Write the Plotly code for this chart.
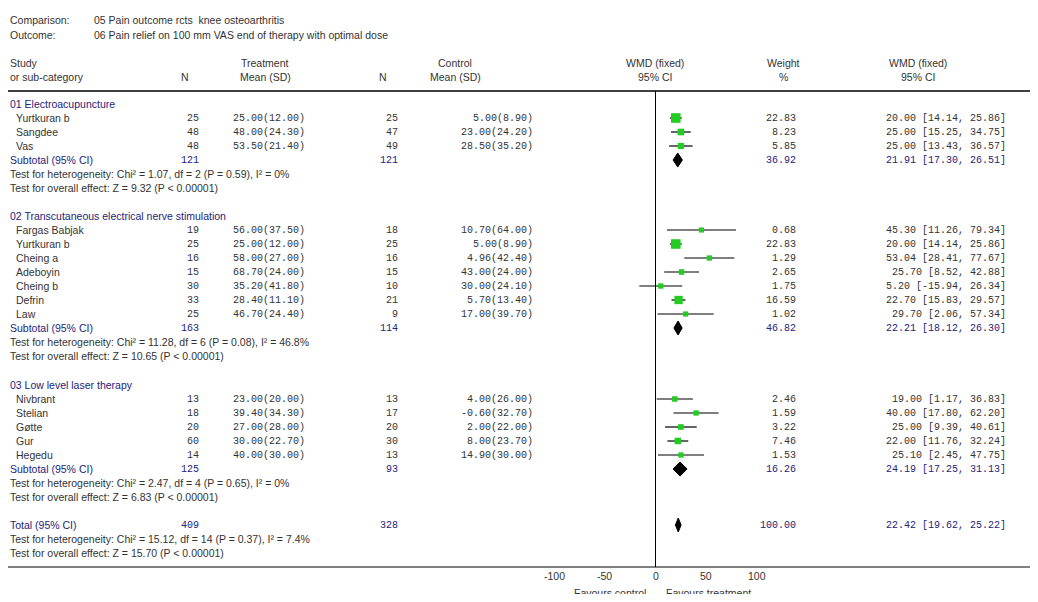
import plotly.graph_objects as go

W, H = 1038, 602
OFF = 8  # page body margin
FW, FH = W - 2 * OFF, H - 2 * OFF
groups = ["01 Electroacupuncture", "02 Transcutaneous electrical nerve stimulation", "03 Low level laser therapy"]
studies = [
    ["Yurtkuran b", "Sangdee", "Vas"],
    ["Fargas Babjak", "Yurtkuran b", "Cheing a", "Adeboyin", "Cheing b", "Defrin", "Law"],
    ["Nivbrant", "Stelian", "Gøtte", "Gur", "Hegedu"],
]
n_t = [[25, 48, 48], [19, 25, 16, 15, 30, 33, 25], [13, 18, 20, 60, 14]]
m_t = [[25.00, 48.00, 53.50], [56.00, 25.00, 58.00, 68.70, 35.20, 28.40, 46.70], [23.00, 39.40, 27.00, 30.00, 40.00]]
sd_t = [[12.00, 24.30, 21.40], [37.50, 12.00, 27.00, 24.00, 41.80, 11.10, 24.40], [20.00, 34.30, 28.00, 22.70, 30.00]]
n_c = [[25, 47, 49], [18, 25, 16, 15, 10, 21, 9], [13, 17, 20, 30, 13]]
m_c = [[5.00, 23.00, 28.50], [10.70, 5.00, 4.96, 43.00, 30.00, 5.70, 17.00], [4.00, -0.60, 2.00, 8.00, 14.90]]
sd_c = [[8.90, 24.20, 35.20], [64.00, 8.90, 42.40, 24.00, 24.10, 13.40, 39.70], [26.00, 32.70, 22.00, 23.70, 30.00]]
weight = [[22.83, 8.23, 5.85], [0.68, 22.83, 1.29, 2.65, 1.75, 16.59, 1.02], [2.46, 1.59, 3.22, 7.46, 1.53]]
wmd = [[20.00, 25.00, 25.00], [45.30, 20.00, 53.04, 25.70, 5.20, 22.70, 29.70], [19.00, 40.00, 25.00, 22.00, 25.10]]
lo = [[14.14, 15.25, 13.43], [11.26, 14.14, 28.41, 8.52, -15.94, 15.83, 2.06], [1.17, 17.80, 9.39, 11.76, 2.45]]
hi = [[25.86, 34.75, 36.57], [79.34, 25.86, 77.67, 42.88, 26.34, 29.57, 57.34], [36.83, 62.20, 40.61, 32.24, 47.75]]
sub_nt = [121, 163, 125]
sub_nc = [121, 114, 93]
sub_w = [36.92, 46.82, 16.26]
sub_wmd = [21.91, 22.21, 24.19]
sub_lo = [17.30, 18.12, 17.25]
sub_hi = [26.51, 26.30, 31.13]
het = ["Test for heterogeneity: Chi² = 1.07, df = 2 (P = 0.59), I² = 0%",
       "Test for heterogeneity: Chi² = 11.28, df = 6 (P = 0.08), I² = 46.8%",
       "Test for heterogeneity: Chi² = 2.47, df = 4 (P = 0.65), I² = 0%"]
overall = ["Test for overall effect: Z = 9.32 (P < 0.00001)",
           "Test for overall effect: Z = 10.65 (P < 0.00001)",
           "Test for overall effect: Z = 6.83 (P < 0.00001)"]
tot = dict(nt=409, nc=328, w=100.00, wmd=22.42, lo=19.62, hi=25.22,
           het="Test for heterogeneity: Chi² = 15.12, df = 14 (P = 0.37), I² = 7.4%",
           ov="Test for overall effect: Z = 15.70 (P < 0.00001)")
ticks = [-100, -50, 0, 50, 100]

SANS = "Liberation Sans"
MONO = "Liberation Mono"
NAVY = "#23237a"
GREY = "#333333"

def px(x):
    return (x - OFF) / FW

fig = go.Figure()
ann = []

def txt(x, y, s, anchor="left", color=GREY, font=SANS, size=10.5):
    ann.append(dict(x=px(x), y=y, xref="paper", yref="y", text=s, showarrow=False,
                    xanchor=anchor, yanchor="middle", font=dict(family=font, size=size, color=color)))

def mono(x, y, s, anchor="right", color=GREY):
    txt(x, y, s, anchor, color, MONO, 10)

for y, a, b in [(6, "Review:", "Laser KOA"), (20, "Comparison:", "05 Pain outcome rcts  knee osteoarthritis"),
                (35, "Outcome:", "06 Pain relief on 100 mm VAS end of therapy with optimal dose")]:
    txt(8, y, a); txt(92, y, b)
txt(8, 63, "Study"); txt(8, 77, "or sub-category")
txt(185, 77, "N", "center"); txt(265, 63, "Treatment", "center"); txt(265, 77, "Mean (SD)", "center")
txt(383, 77, "N", "center"); txt(455, 63, "Control", "center"); txt(455, 77, "Mean (SD)", "center")
txt(655, 63, "WMD (fixed)", "center"); txt(655, 77, "95% CI", "center")
txt(783, 63, "Weight", "center"); txt(783, 77, "%", "center")
txt(918, 63, "WMD (fixed)", "center"); txt(918, 77, "95% CI", "center")

shapes = [
    dict(type="line", xref="paper", yref="y", x0=0, x1=1, y0=91, y1=91, line=dict(color="black", width=1.5)),
    dict(type="line", xref="paper", yref="y", x0=0, x1=1, y0=567, y1=567, line=dict(color="black", width=1)),
    dict(type="line", xref="x", yref="y", x0=0, x1=0, y0=91, y1=567, line=dict(color="black", width=1)),
]

def fmt_ci(w, l, h):
    return f"{w:.2f} [{l:.2f}, {h:.2f}]"

def diamond(y, c, l, h):
    fig.add_trace(go.Scatter(x=[l, c, h, c, l], y=[y, y - 7, y, y + 7, y], mode="lines", fill="toself",
                             fillcolor="black", line=dict(color="black", width=1), hoverinfo="skip"))

y0s = [104, 216, 385]
for g in range(3):
    y = y0s[g]
    txt(8, y, groups[g], color=NAVY)
    for i, s in enumerate(studies[g]):
        yy = y + 14 * (i + 1)
        txt(14, yy, s)
        mono(201, yy, str(n_t[g][i]))
        mono(307, yy, f"{m_t[g][i]:.2f}({sd_t[g][i]:.2f})")
        mono(400, yy, str(n_c[g][i]))
        mono(535, yy, f"{m_c[g][i]:.2f}({sd_c[g][i]:.2f})")
        mono(798, yy, f"{weight[g][i]:.2f}")
        mono(1008, yy, fmt_ci(wmd[g][i], lo[g][i], hi[g][i]))
        fig.add_trace(go.Scatter(x=[lo[g][i], hi[g][i]], y=[yy, yy], mode="lines",
                                 line=dict(color="black", width=1.2), hoverinfo="skip"))
        fig.add_trace(go.Scatter(x=[wmd[g][i]], y=[yy], mode="markers",
                                 marker=dict(symbol="square", color="#22cc22", size=5 + weight[g][i] * 0.2,
                                             line=dict(width=0)), hoverinfo="skip"))
    ys = y + 14 * (len(studies[g]) + 1)
    txt(8, ys, "Subtotal (95% CI)", color=NAVY)
    mono(201, ys, str(sub_nt[g]), color=NAVY)
    mono(400, ys, str(sub_nc[g]), color=NAVY)
    mono(798, ys, f"{sub_w[g]:.2f}", color=NAVY)
    mono(1008, ys, fmt_ci(sub_wmd[g], sub_lo[g], sub_hi[g]), color=NAVY)
    diamond(ys, sub_wmd[g], sub_lo[g], sub_hi[g])
    txt(8, ys + 14, het[g]); txt(8, ys + 28, overall[g])

yt = 525
txt(8, yt, "Total (95% CI)", color=NAVY)
mono(201, yt, str(tot["nt"]), color=NAVY); mono(400, yt, str(tot["nc"]), color=NAVY)
mono(798, yt, f"{tot['w']:.2f}", color=NAVY)
mono(1008, yt, fmt_ci(tot["wmd"], tot["lo"], tot["hi"]), color=NAVY)
diamond(yt, tot["wmd"], tot["lo"], tot["hi"])
txt(8, yt + 14, tot["het"]); txt(8, yt + 28, tot["ov"])

for t in ticks:
    ann.append(dict(x=t, y=576, xref="x", yref="y", text=str(t), showarrow=False, xanchor="center",
                    yanchor="middle", font=dict(family=SANS, size=10.5, color=GREY)))
txt(648, 593, "Favours control", "right"); txt(664, 593, "Favours treatment", "left")

fig.update_layout(width=FW, height=FH, margin=dict(l=0, r=0, t=0, b=0), showlegend=False,
                  paper_bgcolor="white", plot_bgcolor="white", annotations=ann, shapes=shapes,
                  xaxis=dict(domain=[px(554), px(757)], range=[-100, 100], visible=False),
                  yaxis=dict(range=[H - OFF, OFF], visible=False))
fig.write_html("out.html")
